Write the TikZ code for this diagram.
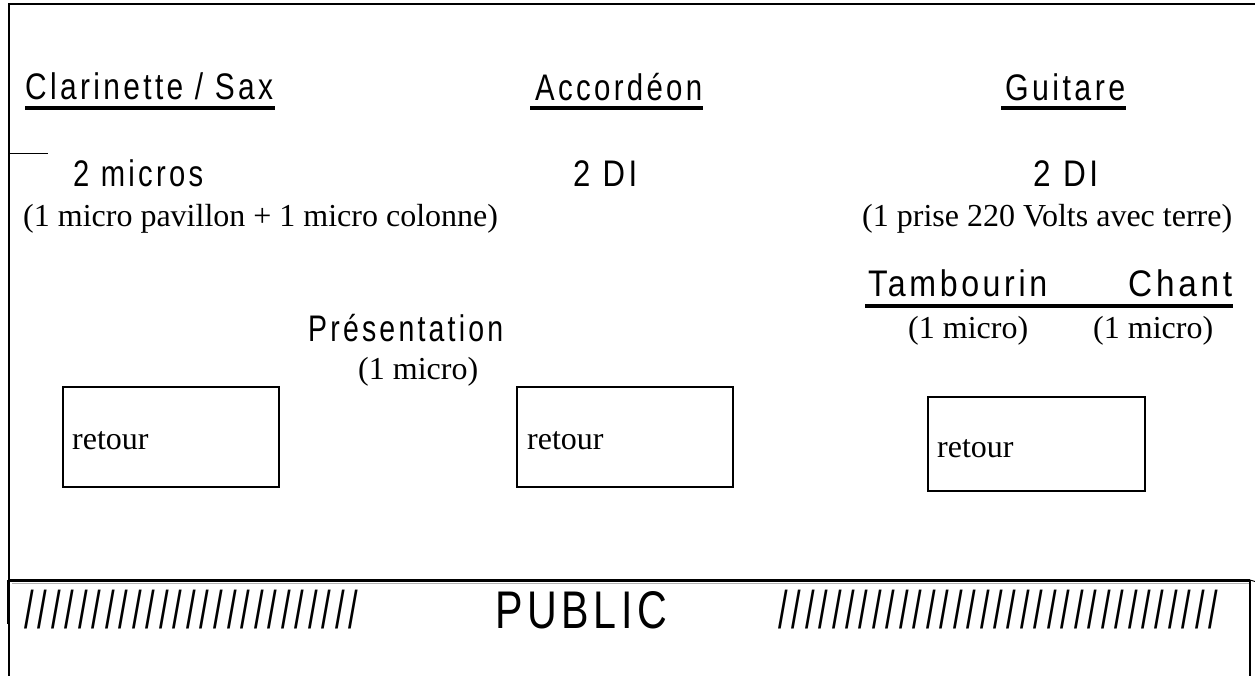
\documentclass[tikz,border=0pt]{standalone}
\usepackage{fontspec}
\usepackage{graphicx}
\setmainfont{Liberation Serif}
\newfontfamily\narrowsans[FakeStretch=0.8,LetterSpace=9]{Liberation Sans}
\newcommand\fitw[2]{\resizebox{#1}{\height}{#2}}
\tikzset{
  head/.style={inner sep=0pt, anchor=base west, font=\fontsize{37}{42}\selectfont\narrowsans},
  big/.style={inner sep=0pt, anchor=base west, font=\fontsize{53}{60}\selectfont\narrowsans},
  note/.style={inner sep=0pt, anchor=base west, font=\fontsize{32}{38}\selectfont},
  retourbox/.style={draw, line width=2pt, rectangle, inner sep=0pt},
  uline/.style={line width=3.5pt},
  frame/.style={line width=2pt},
}
\begin{document}
\begin{tikzpicture}[x=1pt,y=-1pt]
\useasboundingbox (0,0) rectangle (1255,676);
% frame
\coordinate (tl) at (9,4);
\coordinate (tr) at (1255,4);
\coordinate (bl) at (9,676);
\draw[frame] (tr) -- (tl) -- (bl);
\coordinate (tick1) at (9,153.5);
\coordinate (tick2) at (48,153.5);
\draw[line width=1pt] (tick1) -- (tick2);
% public line
\coordinate (pl) at (9,580);
\coordinate (pr) at (1250,580);
\coordinate (pre) at (1255,581.5);
\draw[line width=3pt] (pl) -- (pr);
\draw[line width=1pt] (pr) -- (pre);
\draw[line width=1pt, gray!60] (12,583.5) -- (1249,583.5);
\coordinate (lb1) at (8.5,580);
\coordinate (lb2) at (8.5,624);
\draw[line width=3.5pt] (lb1) -- (lb2);
\coordinate (rb1) at (1249.5,580);
\coordinate (rb2) at (1249.5,676);
\draw[frame] (rb1) -- (rb2);

% headings
\node[head] (cl) at (25,100) {\fitw{248pt}{Clarinette / Sax}};
\draw[uline] ([yshift=-8pt]cl.base west) -- ([xshift=2pt,yshift=-8pt]cl.base east);
\node[head] (ac) at (535,101) {\fitw{167pt}{Accordéon}};
\draw[uline] ([xshift=-5pt,yshift=-7pt]ac.base west) -- ([xshift=1pt,yshift=-7pt]ac.base east);
\node[head] (gu) at (1005,101) {\fitw{120pt}{Guitare}};
\draw[uline] ([xshift=-4pt,yshift=-7pt]gu.base west) -- ([xshift=1pt,yshift=-7pt]gu.base east);

\node[head] (m2) at (73,187) {\fitw{130pt}{2 micros}};
\node[head] (di1) at (573,187) {\fitw{64pt}{2 DI}};
\node[head] (di2) at (1033,187) {\fitw{65pt}{2 DI}};

\node[note] (n1) at (23,227) {(1 micro pavillon + 1 micro colonne)};
\node[note] (n2) at (862,227) {(1 prise 220 Volts avec terre)};

\node[head] (ta) at (868,297) {\fitw{179pt}{Tambourin}};
\node[head] (ch) at (1128,297) {\fitw{104pt}{Chant}};
\draw[line width=4pt] ([xshift=-3pt,yshift=-8.5pt]ta.base west) -- ([xshift=1pt,yshift=-8.5pt]ch.base east);
\node[note] (n3) at (908,338) {(1 micro)};
\node[note] (n4) at (1093,338) {(1 micro)};

\node[head] (pr) at (308,341.5) {\fitw{195pt}{Présentation}};
\node[note] (n5) at (358,379) {(1 micro)};

% retour boxes
\node[retourbox, minimum width=216pt, minimum height=100pt] (b1) at (171,437) {};
\node[retourbox, minimum width=216pt, minimum height=100pt] (b2) at (625,437) {};
\node[retourbox, minimum width=217pt, minimum height=94pt] (b3) at (1036.5,444) {};
\node[note] (r1) at (72,449) {retour};
\node[note] (r2) at (527,449) {retour};
\node[note] (r3) at (937,457) {retour};

% public
\node[big] (sl1) at (24,628) {\fitw{334pt}{/////////////////////////}};
\node[big] (pub) at (495,628) {\fitw{172pt}{PUBLIC}};
\node[big] (sl2) at (778,628) {\fitw{440pt}{/////////////////////////////////}};
\end{tikzpicture}
\end{document}
